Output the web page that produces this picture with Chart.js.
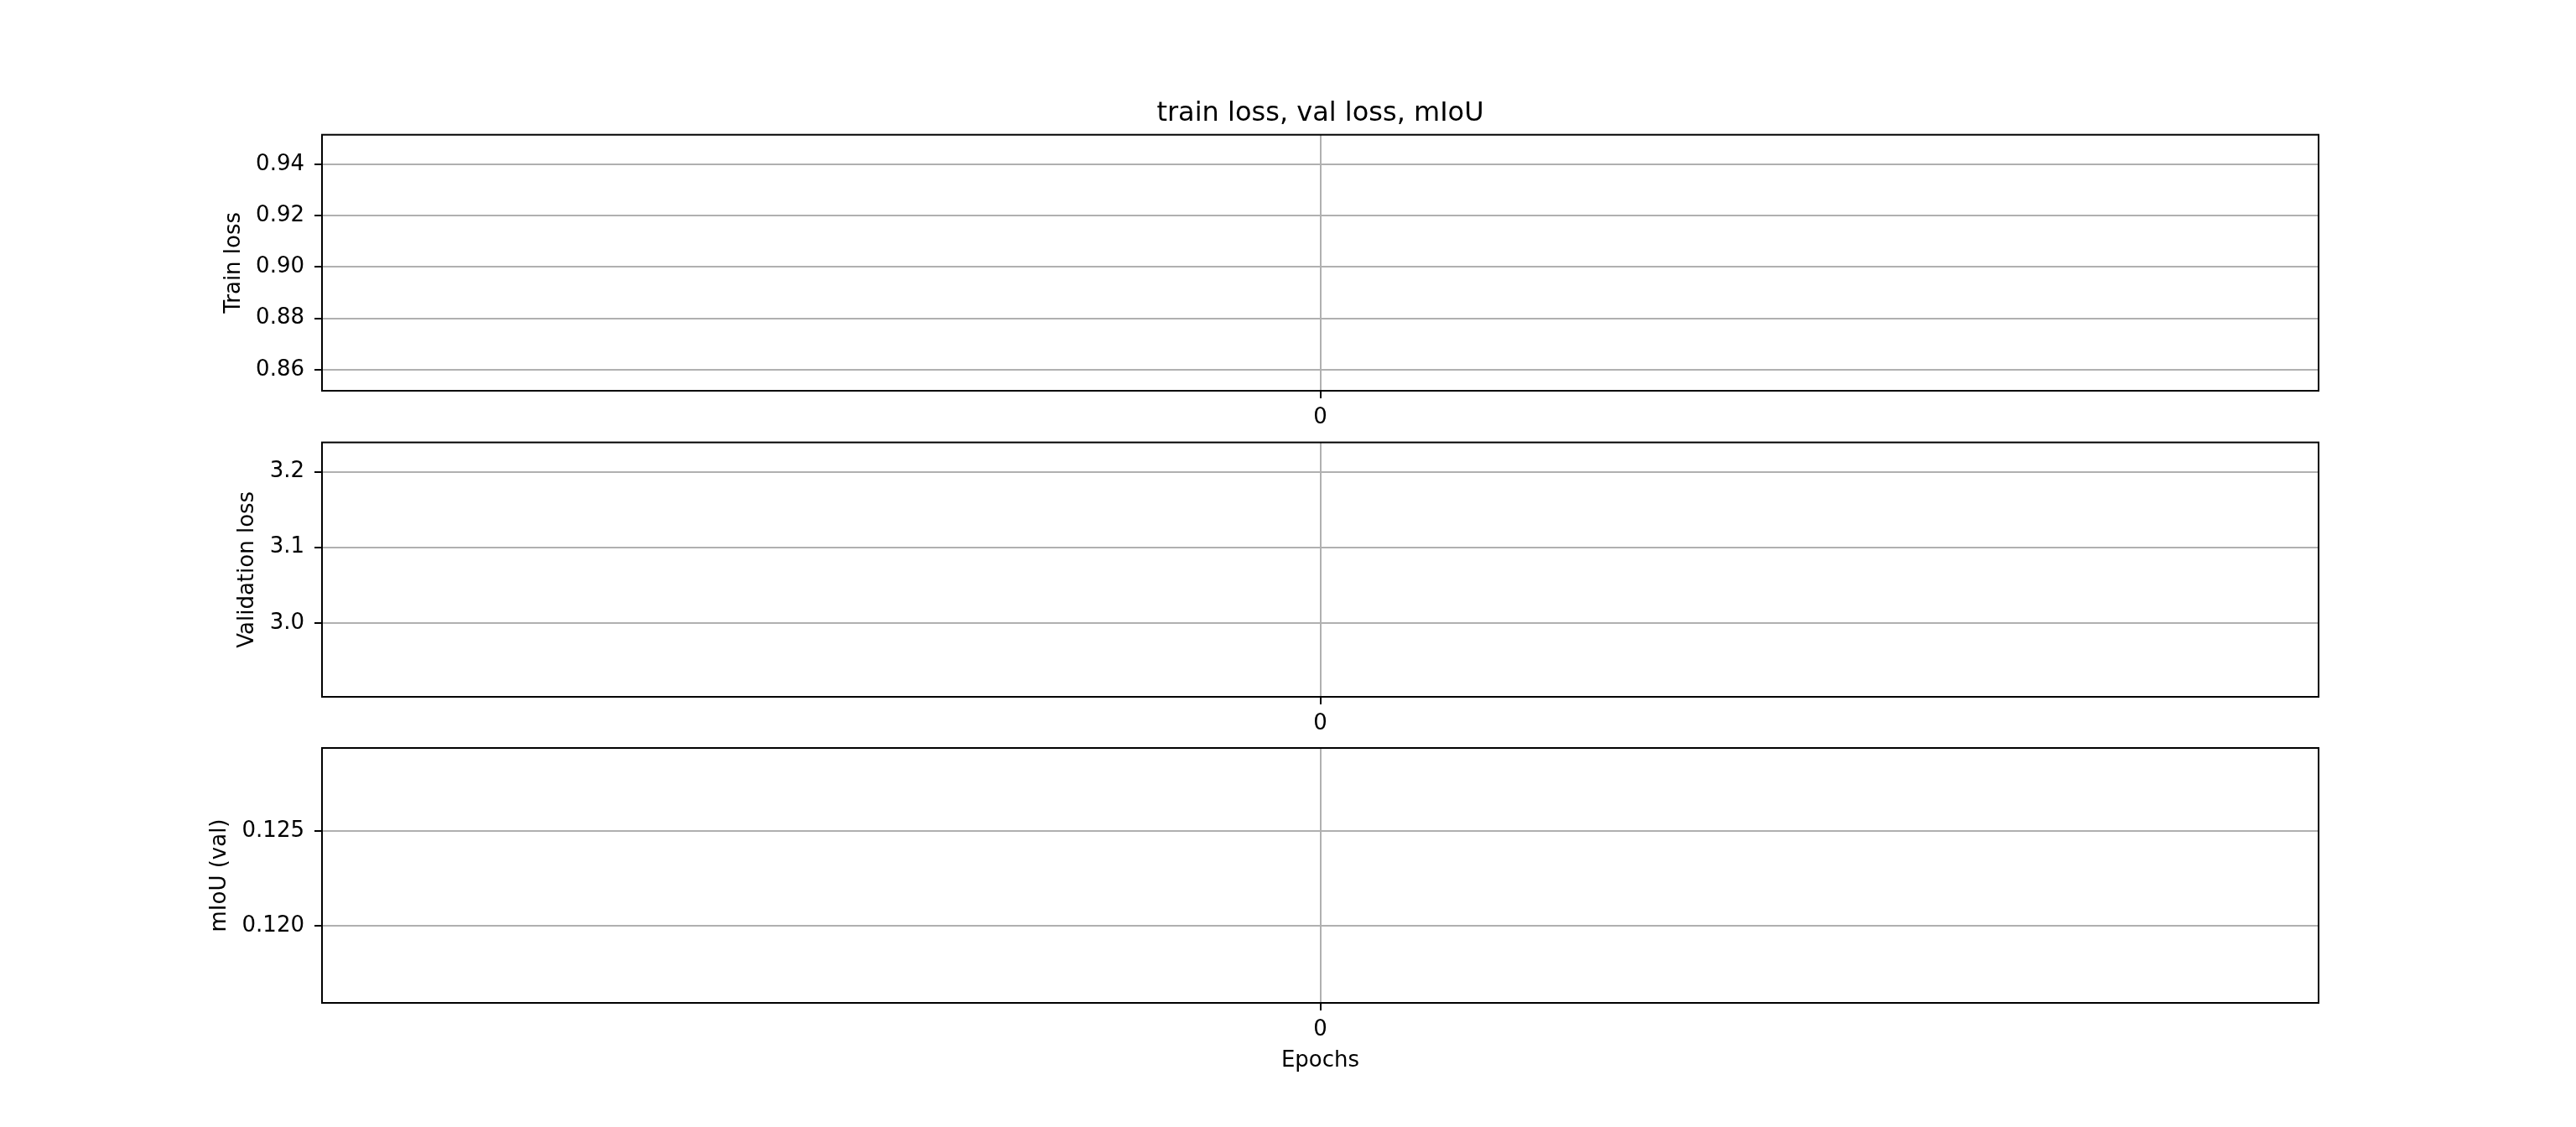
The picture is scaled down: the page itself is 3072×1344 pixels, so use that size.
<!DOCTYPE html>
<html>
<head>
<meta charset="utf-8">
<script src="https://cdn.jsdelivr.net/npm/chart.js@4"></script>
<style>
  html, body { margin: 0; padding: 0; background: #ffffff; }
  body { width: 3072px; height: 1344px; position: relative; overflow: hidden; }
  .panel { position: absolute; left: 0; width: 3072px; }
</style>
</head>
<body>
<div class="panel" style="top:0px;height:520px"><canvas id="c1"></canvas></div>
<div class="panel" style="top:500px;height:400px"><canvas id="c2"></canvas></div>
<div class="panel" style="top:860px;height:484px"><canvas id="c3"></canvas></div>
<script>
// ---- data ----
const epochs = [0];
const trainLoss = [0.9017];
const valLoss = [3.0705];
const mIoU = [0.12266];

const xTicks = [0];
const trainTicks = [0.86, 0.88, 0.90, 0.92, 0.94];
const valTicks = [3.0, 3.1, 3.2];
const miouTicks = [0.120, 0.125];

const trainRange = [0.8518, 0.9515];
const valRange = [2.902, 3.239];
const miouRange = [0.11593, 0.12938];
const xRange = [-0.055, 0.055];

const titleText = 'train loss, val loss, mIoU';
const FONT = "'DejaVu Sans', sans-serif";

const frame = {
  id: 'frame',
  afterDraw(chart) {
    const a = chart.chartArea, ctx = chart.ctx;
    ctx.save();
    ctx.strokeStyle = '#000';
    ctx.lineWidth = 2;
    ctx.strokeRect(a.left, a.top, a.right - a.left, a.bottom - a.top);
    ctx.restore();
  }
};

function makeChart(id, values, yTicks, yRange, decimals, yLabel, opts) {
  const pts = epochs.map((e, i) => ({x: e, y: values[i]}));
  return new Chart(document.getElementById(id), {
    type: 'line',
    data: { datasets: [{ data: pts, borderColor: '#1f77b4', borderWidth: 3, pointRadius: 0 }] },
    plugins: [frame],
    options: {
      responsive: true, maintainAspectRatio: false, animation: false,
      layout: { padding: opts.padding },
      plugins: {
        legend: { display: false }, tooltip: { enabled: false },
        title: opts.title ? {
          display: true, text: titleText, color: '#000', fullSize: false,
          font: { family: FONT, size: 32, weight: 'normal', lineHeight: 1.2 },
          padding: { top: 116.5, bottom: 5.8 }
        } : { display: false }
      },
      scales: {
        x: {
          type: 'linear', min: xRange[0], max: xRange[1],
          afterBuildTicks: s => { s.ticks = xTicks.map(v => ({value: v})); },
          afterFit: s => { s.height = opts.xh; },
          grid: { color: '#b0b0b0', lineWidth: 2, tickColor: '#000', tickLength: 9, tickWidth: 2 },
          border: { color: '#000', width: 2 },
          ticks: { color: '#000', font: { family: FONT, size: 26 }, padding: 8, maxRotation: 0,
                   callback: v => String(v) },
          title: opts.xTitle ? { display: true, text: 'Epochs', color: '#000',
                   font: { family: FONT, size: 26, lineHeight: 1.2 }, padding: 0 } : { display: false }
        },
        y: {
          type: 'linear', min: yRange[0], max: yRange[1],
          afterBuildTicks: s => { s.ticks = yTicks.map(v => ({value: v})); },
          afterFit: s => { s.width = opts.yw; },
          grid: { color: '#b0b0b0', lineWidth: 2, tickColor: '#000', tickLength: 9, tickWidth: 2 },
          border: { color: '#000', width: 2 },
          ticks: { color: '#000', font: { family: FONT, size: 26 }, padding: 12,
                   callback: v => Number(v).toFixed(decimals) },
          title: { display: true, text: yLabel, color: '#000',
                   font: { family: FONT, size: 26, lineHeight: 1.2 }, padding: 0 }
        }
      }
    }
  });
}

makeChart('c1', trainLoss, trainTicks, trainRange, 2, 'Train loss',
  { title: true, xh: 54, yw: 120.6, padding: { left: 384 - 120.6, right: 307, top: 0, bottom: 0 } });
makeChart('c2', valLoss, valTicks, valRange, 1, 'Validation loss',
  { xh: 54, yw: 104.6, padding: { left: 384 - 104.6, right: 307, top: 26.7, bottom: 15 } });
makeChart('c3', mIoU, miouTicks, miouRange, 3, 'mIoU (val)',
  { xTitle: true, xh: 85, yw: 137.6, padding: { left: 384 - 137.6, right: 307, top: 32, bottom: 63 } });
</script>
</body>
</html>
